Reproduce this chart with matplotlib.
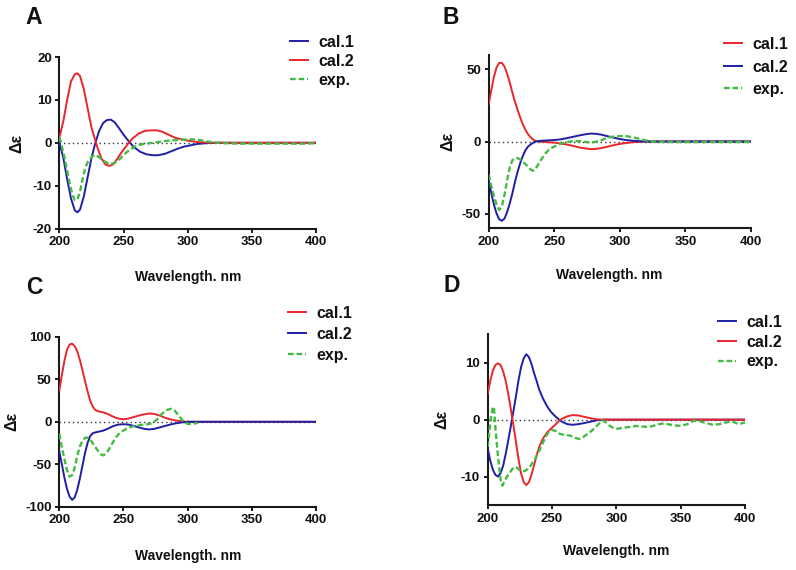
import matplotlib
matplotlib.use("Agg")
import matplotlib.pyplot as plt

plt.rcParams['font.family'] = ['Liberation Sans', 'DejaVu Sans']
plt.rcParams['axes.unicode_minus'] = False

# ---------------- Panel A ----------------
a_cal1_x = [200, 203, 206, 209, 212, 214, 216, 219, 222, 225, 228, 231, 234, 237, 240, 243, 246, 249, 252, 255,
            258, 263, 268, 273, 277, 282, 287, 292, 297, 302, 307, 312, 317, 322, 400]
a_cal1_y = [0, -3.5, -8.5, -13, -15.8, -16.2, -15.6, -12.5, -8, -3.5, 0, 2.8, 4.6, 5.3, 5.4, 4.8, 3.6, 2.3, 1.1, 0,
            -1, -2.1, -2.7, -2.9, -2.9, -2.6, -2, -1.4, -0.9, -0.6, -0.3, -0.15, -0.05, 0, 0]
a_cal2_x = [200, 203, 206, 209, 212, 214, 216, 219, 222, 225, 228, 230, 233, 236, 239, 242, 245, 248, 251, 254,
            257, 262, 267, 272, 276, 280, 285, 290, 295, 300, 305, 310, 315, 320, 400]
a_cal2_y = [1.3, 5, 10, 14.3, 16, 16.2, 15.6, 12.5, 8, 3.5, 0.5, -1.5, -3.8, -5.1, -5.4, -5, -3.8, -2.4, -1.2, 0,
            1, 2.2, 2.8, 2.9, 2.9, 2.6, 1.9, 1.2, 0.8, 0.5, 0.3, 0.1, 0.05, 0, 0]
a_exp_x = [200, 202, 204, 206, 208, 210, 212, 214, 216, 218, 220, 222, 225, 228, 231, 235, 239, 243, 247, 250,
           255, 260, 265, 270, 275, 280, 285, 290, 295, 300, 305, 310, 315, 320, 330, 340, 350, 360, 370, 380,
           390, 400]
a_exp_y = [1.3, -1, -3.5, -6.5, -9.5, -12, -13.4, -13.2, -11.5, -8.5, -6, -4.5, -3.3, -2.8, -3.4, -4.3, -5, -4.7,
           -3.8, -2.8, -1.6, -0.7, -0.3, -0.1, 0.1, 0.3, 0.5, 0.6, 0.7, 0.8, 0.8, 0.6, 0.3, 0.1, -0.1, -0.2,
           -0.2, -0.2, -0.2, -0.2, -0.2, -0.1]

# ---------------- Panel B ----------------
b_cal1_x = [200, 202, 204, 206, 208, 210, 212, 214, 216, 218, 220, 222, 224, 226, 228, 230, 232, 234, 236, 240,
            245, 250, 255, 260, 265, 270, 275, 278, 282, 286, 290, 295, 300, 305, 310, 315, 320, 400]
b_cal1_y = [26, 36, 45, 51.5, 54.5, 54.5, 52, 47, 41, 34, 27.5, 22, 16.5, 12, 8, 5, 2.8, 1.2, 0.3, -0.2,
            -0.5, -0.8, -1.4, -2.2, -3.2, -4.3, -5, -5.3, -5.1, -4.5, -3.7, -2.6, -1.7, -1, -0.5, -0.2, 0, 0]
b_cal2_x = [200, 202, 204, 206, 208, 210, 212, 214, 216, 218, 220, 222, 224, 226, 228, 230, 232, 234, 236, 240,
            245, 250, 255, 260, 265, 270, 275, 278, 282, 286, 290, 295, 300, 305, 310, 315, 320, 400]
b_cal2_y = [-27, -36, -44, -50, -54, -55, -53.5, -49, -43, -36, -28, -21, -15, -10, -6, -3.5, -2, -0.8, 0, 0.5,
            0.8, 1, 1.5, 2.4, 3.4, 4.4, 5.2, 5.5, 5.3, 4.7, 3.8, 2.7, 1.7, 1, 0.5, 0.2, 0, 0]
b_exp_x = [200, 202, 204, 206, 208, 210, 212, 214, 216, 218, 220, 222, 224, 226, 228, 230, 232, 234, 236, 238,
           240, 243, 246, 250, 255, 260, 265, 270, 275, 280, 285, 290, 295, 300, 305, 310, 315, 320, 325, 330,
           340, 350, 360, 370, 380, 390, 400]
b_exp_y = [-23, -31, -38, -44, -47.5, -45, -37, -27, -18, -13, -11.5, -11.5, -12.5, -14, -15.8, -17.5, -19.5,
           -20.3, -18.5, -15.5, -12.5, -8.5, -5.5, -3.5, -1.5, -0.3, 0.4, 0.2, -0.5, -0.5, 0.5, 2.5, 3.4, 3.8,
           3.7, 2.9, 1.8, 0.7, 0, -0.3, -0.4, -0.4, -0.4, -0.4, -0.4, -0.4, -0.3]

# ---------------- Panel C ----------------
c_cal1_x = [200, 202, 204, 206, 208, 210, 212, 214, 216, 218, 220, 222, 224, 226, 228, 230, 232, 235, 238, 241,
            244, 247, 250, 253, 256, 260, 265, 270, 274, 278, 282, 286, 290, 295, 300, 400]
c_cal1_y = [37, 55, 72, 85, 91, 92, 89, 83, 73, 61, 48, 36, 25, 18, 14, 12.5, 11.8, 10.8, 9, 6.7,
            4.8, 3.5, 3, 3.5, 4.7, 6.5, 8.5, 9.8, 9.2, 7.5, 5, 3, 1.7, 0.6, 0, 0]
c_cal2_x = [200, 202, 204, 206, 208, 210, 212, 214, 216, 218, 220, 222, 224, 226, 228, 231, 234, 238, 242, 246,
            250, 254, 258, 262, 266, 270, 274, 278, 282, 286, 290, 295, 300, 400]
c_cal2_y = [-35, -50, -66, -79, -88, -92, -89, -80, -67, -52, -37, -25, -17, -13.5, -12.5, -11.5, -10.5, -8, -5,
            -3.3, -2.8, -3.3, -4.8, -6.6, -8.3, -9, -8.3, -6.7, -5, -3.4, -2, -0.8, 0, 0]
c_exp_x = [200, 202, 204, 206, 208, 210, 212, 214, 216, 218, 220, 222, 224, 226, 228, 230, 232, 234, 236, 238,
           240, 242, 244, 246, 248, 252, 256, 260, 265, 270, 273, 276, 280, 284, 287, 290, 293, 296, 300, 304, 308]
c_exp_y = [-14, -30, -44, -57, -64.5, -63, -54, -40, -29, -22.5, -19, -18.5, -21, -25, -29.5, -34, -38, -39.5,
           -38, -34, -29, -23.5, -18.5, -15, -12, -8.5, -6, -4.5, -3.5, -2.7, -1.2, 2.5, 9.5, 14, 15.3, 13, 7.5,
           1.5, -2.5, -2.5, -1.2]

# ---------------- Panel D ----------------
d_cal1_x = [200, 202, 204, 206, 208, 210, 212, 214, 216, 218, 220, 222, 224, 226, 228, 230, 232, 234, 236, 238,
            240, 243, 246, 249, 252, 255, 258, 262, 266, 270, 275, 280, 285, 290, 400]
d_cal1_y = [-5.1, -7.2, -8.8, -9.7, -10, -9.4, -8.1, -6, -3.6, -1.1, 1.5, 4.2, 7, 9.3, 10.8, 11.5, 11, 9.8, 8.2,
            6.8, 5.3, 3.7, 2.4, 1.4, 0.7, 0.1, -0.4, -0.8, -0.9, -0.8, -0.6, -0.35, -0.1, 0, 0]
d_cal2_x = [200, 202, 204, 206, 208, 210, 212, 214, 216, 218, 220, 222, 224, 226, 228, 230, 232, 234, 236, 238,
            240, 243, 246, 249, 252, 255, 258, 262, 266, 270, 275, 280, 285, 290, 400]
d_cal2_y = [4.6, 6.8, 8.6, 9.6, 9.9, 9.6, 8.5, 6.8, 4.5, 1.8, -1, -4, -7, -9.5, -11, -11.5, -11, -9.7, -8, -6.3,
            -4.8, -3.3, -2.3, -1.6, -1, -0.3, 0.2, 0.6, 0.8, 0.75, 0.5, 0.25, 0.05, 0, 0]
d_exp_x = [200, 202, 204, 205, 206, 208, 210, 211.5, 213, 215, 217, 219, 221, 223, 225, 227, 229, 231, 233, 235,
           237, 239, 241, 243, 245, 247, 250, 253, 256, 260, 264, 268, 271, 274, 277, 280, 283, 286, 289, 292,
           295, 298, 301, 305, 310, 315, 320, 325, 330, 335, 340, 345, 350, 355, 360, 365, 370, 375, 380, 385,
           390, 395, 400]
d_exp_y = [-4.8, -0.5, 2.3, 1.8, -1.5, -6.5, -10.5, -11.6, -10.8, -10, -9.4, -8.7, -8.3, -8.5, -8.9, -9.1, -9,
           -8.7, -8.2, -7.5, -6.8, -6, -5, -4, -3, -2.3, -1.8, -2, -2.5, -2.7, -2.8, -3.2, -3.4, -3.1, -2.6,
           -2.1, -1.5, -0.8, -0.1, -0.5, -1.1, -1.5, -1.6, -1.4, -1.3, -1.1, -1.2, -1.3, -1.0, -0.7, -0.8, -1.0,
           -1.1, -0.8, -0.2, -0.3, -0.6, -0.9, -0.8, -0.5, -0.3, -0.8, -0.5]

x_ticks = [200, 250, 300, 350, 400]
series_labels = ["cal.1", "cal.2", "exp."]

RED = "#e8262b"
BLUE = "#1f1fa5"
GREEN = "#45bb45"
INK = "#1a1a1a"

W, H = 796, 570
fig = plt.figure(figsize=(W / 100, H / 100), dpi=100)


def px(x, y):
    return x / W, 1 - y / H


panels = [
    dict(rect=[0.0747, 0.599, 0.3222, 0.301], ylim=(-20, 20), yticks=[-20, -10, 0, 10, 20],
         series=[(a_cal1_x, a_cal1_y, BLUE), (a_cal2_x, a_cal2_y, RED), (a_exp_x, a_exp_y, GREEN)],
         letter=("A", 34, 18), ylab=(17, 143), xlab=(188, 277), leg=(290, 35, 0.25)),
    dict(rect=[0.614, 0.600, 0.3295, 0.3035], ylim=(-60, 60), yticks=[-50, 0, 50],
         series=[(b_cal1_x, b_cal1_y, RED), (b_cal2_x, b_cal2_y, BLUE), (b_exp_x, b_exp_y, GREEN)],
         letter=("B", 451, 18), ylab=(448, 141), xlab=(609, 275), leg=(724, 37, 0.47)),
    dict(rect=[0.0745, 0.111, 0.3225, 0.298], ylim=(-100, 100), yticks=[-100, -50, 0, 50, 100],
         series=[(c_cal1_x, c_cal1_y, RED), (c_cal2_x, c_cal2_y, BLUE), (c_exp_x, c_exp_y, GREEN)],
         letter=("C", 34, 287), ylab=(12, 421), xlab=(188, 556), leg=(288, 306, 0.37)),
    dict(rect=[0.6127, 0.114, 0.3233, 0.2995], ylim=(-15, 15), yticks=[-10, 0, 10],
         series=[(d_cal1_x, d_cal1_y, BLUE), (d_cal2_x, d_cal2_y, RED), (d_exp_x, d_exp_y, GREEN)],
         letter=("D", 452, 285), ylab=(442, 419), xlab=(616, 551), leg=(718, 315, 0.29)),
]

for p in panels:
    ax = fig.add_axes(p["rect"])
    ax.axhline(0, color="#333333", lw=1.0, ls=(0, (1, 2.2)), zorder=1)
    handles = []
    for (xs, ys, col), lab in zip(p["series"], series_labels):
        if col == GREEN:
            ln, = ax.plot(xs, ys, color=col, lw=1.7, dashes=(2.4, 1.2), label=lab, zorder=4)
        else:
            ln, = ax.plot(xs, ys, color=col, lw=1.4, label=lab, zorder=3)
        handles.append(ln)
    ax.set_xlim(200, 400)
    ax.set_ylim(*p["ylim"])
    ax.set_xticks(x_ticks)
    ax.set_yticks(p["yticks"])
    for s in ("top", "right"):
        ax.spines[s].set_visible(False)
    for s in ("left", "bottom"):
        ax.spines[s].set_linewidth(1.5)
        ax.spines[s].set_color(INK)
    ax.tick_params(axis="both", direction="out", length=3.0, width=1.4, color=INK,
                   labelsize=9.5, labelcolor="#111111", pad=2.5)
    for t in ax.get_xticklabels() + ax.get_yticklabels():
        t.set_fontweight("bold")
    ax.patch.set_alpha(0)

    lx, ly, lsp = p["leg"]
    leg = ax.legend(handles=handles, loc="upper left", bbox_to_anchor=px(lx, ly),
                    bbox_transform=fig.transFigure, frameon=False, borderpad=0, borderaxespad=0,
                    handlelength=1.1, handletextpad=0.7, labelspacing=lsp,
                    prop=dict(weight="bold", size=11.5))
    for t in leg.get_texts():
        t.set_color("#111111")

    letter, lx2, ly2 = p["letter"]
    fig.text(*px(lx2, ly2), letter, fontsize=16.5, fontweight="bold", ha="center", va="center", color="#111111")
    fig.text(*px(*p["ylab"]), "Δε", fontsize=11.5, fontweight="bold", rotation=90, ha="center", va="center",
             color="#111111")
    fig.text(*px(*p["xlab"]), "Wavelength. nm", fontsize=10, fontweight="bold", ha="center", va="center",
             color="#111111")

fig.savefig("out.png", dpi=100)
